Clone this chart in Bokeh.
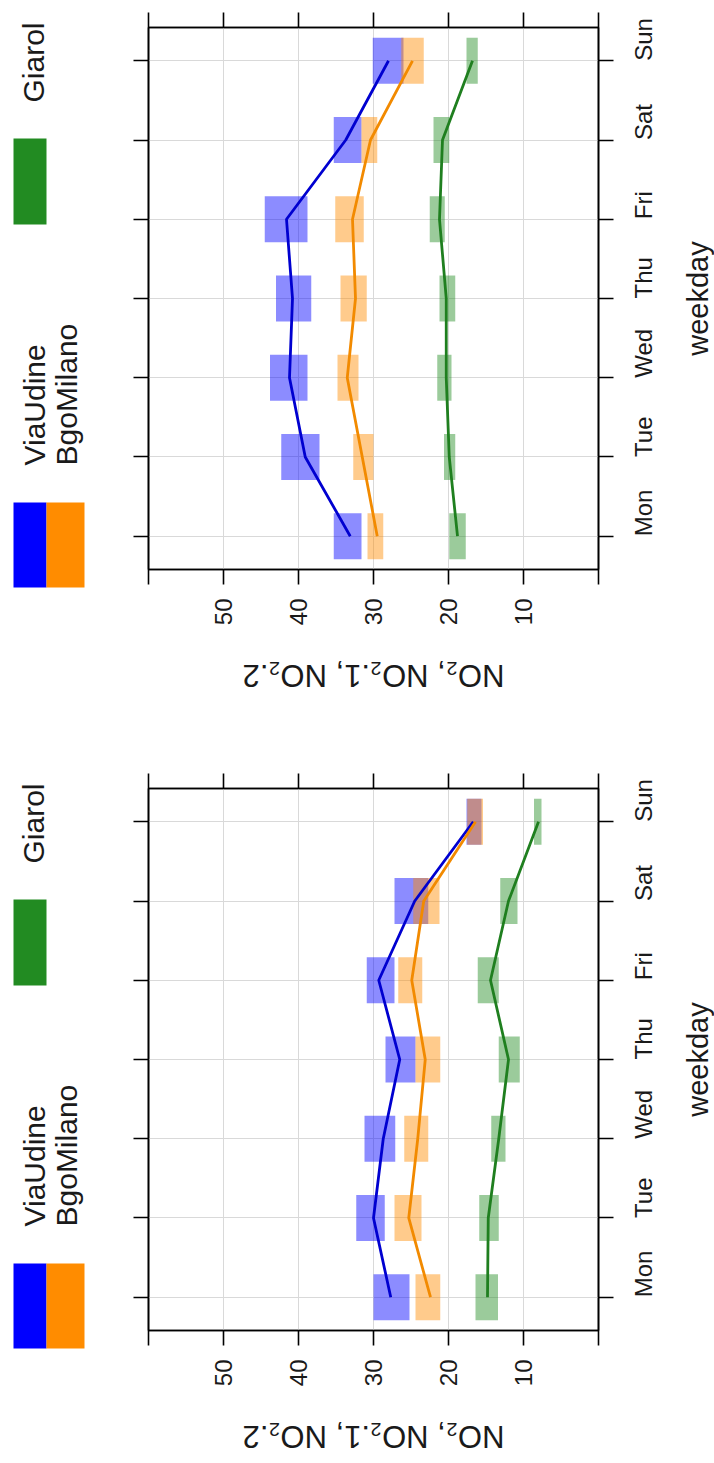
import math

from bokeh.core.properties import value
from bokeh.embed import file_html
from bokeh.layouts import column, row
from bokeh.models import FixedTicker, LinearAxis, Range1d
from bokeh.plotting import figure
from bokeh.resources import INLINE

# ---------------------------------------------------------------- data
days = ["Mon", "Tue", "Wed", "Thu", "Fri", "Sat", "Sun"]
value_ticks = [0, 10, 20, 30, 40, 50, 60]
sites = ["ViaUdine", "BgoMilano", "Giarol"]

# upper panel: weekday means and confidence bounds
upper_viaudine = [33.1, 39.1, 41.2, 40.8, 41.6, 33.7, 28.0]
upper_viaudine_lo = [31.6, 37.2, 38.8, 38.3, 38.8, 31.6, 26.0]
upper_viaudine_hi = [35.3, 42.3, 43.8, 43.0, 44.5, 35.3, 30.1]
upper_bgomilano = [29.5, 31.5, 33.5, 32.4, 32.8, 30.4, 24.8]
upper_bgomilano_lo = [28.7, 30.0, 32.0, 30.9, 31.3, 29.5, 23.3]
upper_bgomilano_hi = [30.8, 32.7, 34.8, 34.4, 35.1, 31.6, 26.3]
upper_giarol = [18.8, 19.9, 20.3, 20.3, 21.2, 20.8, 16.8]
upper_giarol_lo = [17.7, 19.1, 19.6, 19.1, 20.5, 19.9, 16.1]
upper_giarol_hi = [19.9, 20.6, 21.5, 21.2, 22.5, 22.0, 17.6]

# lower panel: weekday means and confidence bounds
lower_viaudine = [27.7, 30.0, 28.7, 26.5, 29.3, 24.5, 16.7]
lower_viaudine_lo = [25.2, 28.5, 27.1, 24.4, 27.2, 22.7, 15.6]
lower_viaudine_hi = [30.0, 32.3, 31.2, 28.4, 30.9, 27.2, 17.6]
lower_bgomilano = [22.4, 25.3, 24.1, 23.1, 24.9, 23.3, 16.4]
lower_bgomilano_lo = [21.1, 23.6, 22.7, 21.1, 23.5, 21.2, 15.4]
lower_bgomilano_hi = [24.4, 27.2, 25.9, 24.4, 26.7, 24.7, 17.5]
lower_giarol = [14.8, 14.7, 13.3, 12.0, 14.4, 12.0, 8.0]
lower_giarol_lo = [13.4, 13.3, 12.4, 10.5, 13.3, 10.8, 7.6]
lower_giarol_hi = [16.4, 15.9, 14.3, 13.3, 16.1, 13.1, 8.6]

# ---------------------------------------------------------------- styling
KEY_COLORS = {"ViaUdine": "#0000FF", "BgoMilano": "#FF8C00", "Giarol": "#228B22"}
LINE_COLORS = {"ViaUdine": "#0000D0", "BgoMilano": "#F28A00", "Giarol": "#1F7F1F"}
FONT = "Liberation Sans"
TEXT_COLOR = "#1a1a1a"
X_TITLE = "weekday"
Y_TITLE = "NO\u2082, NO\u2082.1, NO\u2082.2"

PAGE_W = 714
KEY_W = 100                      # key strip on the left
SIDE_W = 32                      # strip holding the weekday title on the right
MAIN_W = PAGE_W - KEY_W - SIDE_W
MAIN_H = 645
FRAME_L, FRAME_T, FRAME_W, FRAME_H = 48, 27, 450, 542
X_START, X_END = 60, 0           # value axis runs from right to left
Y_START, Y_END = 0.58, 7.42      # Mon at the bottom, Sun at the top
BAR_HALF = 0.29


def blank_strip(width, height):
    """A plain drawing area measured in pixels from its top-left corner."""
    s = figure(width=width, height=height,
               x_range=Range1d(0, width), y_range=Range1d(height, 0),
               min_border=0, output_backend="svg", toolbar_location=None,
               outline_line_color=None, background_fill_color="white",
               border_fill_color="white", frame_align=False)
    s.axis.visible = False
    s.grid.visible = False
    return s


def make_key():
    k = blank_strip(KEY_W, MAIN_H)
    boxes = {"ViaUdine": (13, 46, 502, 587), "BgoMilano": (46, 84, 502, 587),
             "Giarol": (13, 46, 138, 224)}
    for name in sites:
        x0, x1, y0, y1 = boxes[name]
        k.quad(left=x0, right=x1, top=y0, bottom=y1,
               fill_color=KEY_COLORS[name], line_color=None)
    anchors = {"ViaUdine": (33.5, 465), "BgoMilano": (66, 465), "Giarol": (33, 102)}
    k.text(x=[anchors[n][0] for n in sites], y=[anchors[n][1] for n in sites],
           text=sites, angle=math.pi / 2, text_align="left",
           text_baseline="middle", text_font=value(FONT),
           text_font_size="30px", text_color=TEXT_COLOR)
    return k


def make_side_title():
    s = blank_strip(SIDE_W, MAIN_H)
    s.text(x=[15.5], y=[FRAME_T + FRAME_H / 2], text=[X_TITLE], angle=math.pi / 2,
           text_align="center", text_baseline="middle", text_font=value(FONT),
           text_font_size="29px", text_color=TEXT_COLOR)
    return s


def make_bottom_title(height):
    s = blank_strip(PAGE_W, height)
    s.text(x=[KEY_W + FRAME_L + FRAME_W / 2], y=[30], text=[Y_TITLE], angle=math.pi,
           text_align="center", text_baseline="middle", text_font=value(FONT),
           text_font_size="31px", text_color=TEXT_COLOR)
    return s


def make_panel(series):
    p = figure(
        width=MAIN_W, height=MAIN_H,
        x_range=Range1d(X_START, X_END), y_range=Range1d(Y_START, Y_END),
        x_axis_location="below", y_axis_location="right",
        min_border_left=FRAME_L, min_border_right=MAIN_W - FRAME_L - FRAME_W,
        min_border_top=FRAME_T, min_border_bottom=MAIN_H - FRAME_T - FRAME_H,
        output_backend="svg", toolbar_location=None,
        background_fill_color="white", border_fill_color="white",
        outline_line_color="black", outline_line_width=1.6,
    )

    day_pos = list(range(1, len(days) + 1))
    day_labels = {i + 1: d for i, d in enumerate(days)}
    val_labels = {t: ("" if t in (X_START, X_END) else str(t)) for t in value_ticks}

    # grid
    p.xgrid.ticker = FixedTicker(ticks=value_ticks[1:-1])
    p.ygrid.ticker = FixedTicker(ticks=day_pos)
    for g in (p.xgrid, p.ygrid):
        g.grid_line_color = "#d9d9d9"
        g.grid_line_width = 1

    # labelled axes
    xa = p.xaxis[0]
    xa.ticker = FixedTicker(ticks=value_ticks)
    xa.major_label_overrides = val_labels
    xa.major_label_standoff = 14

    ya = p.yaxis[0]
    ya.ticker = FixedTicker(ticks=day_pos)
    ya.major_label_overrides = day_labels
    ya.major_label_standoff = 30

    for ax in (xa, ya):
        ax.major_label_orientation = math.pi / 2
        ax.major_label_text_font = FONT
        ax.major_label_text_font_size = "24px"
        ax.major_label_text_color = TEXT_COLOR

    # tick-only axes on the opposite sides
    top = LinearAxis(ticker=FixedTicker(ticks=value_ticks))
    left = LinearAxis(ticker=FixedTicker(ticks=day_pos))
    for ax in (top, left):
        ax.major_label_text_font_size = "1px"
        ax.major_label_text_color = None
        ax.major_label_standoff = 0
    p.add_layout(top, "above")
    p.add_layout(left, "left")

    for ax in (xa, ya, top, left):
        ax.axis_line_color = "black"
        ax.axis_line_width = 1.6
        ax.major_tick_line_color = "black"
        ax.major_tick_line_width = 1.6
        ax.major_tick_out = 15
        ax.major_tick_in = 0
        ax.minor_tick_line_color = None

    # confidence rectangles, then the mean lines
    for name in sites:
        mean, lo, hi = series[name]
        p.quad(left=lo, right=hi,
               bottom=[d - BAR_HALF for d in day_pos], top=[d + BAR_HALF for d in day_pos],
               fill_color=KEY_COLORS[name], fill_alpha=0.45, line_color=None)
    for name in sites:
        mean, lo, hi = series[name]
        p.line(mean, day_pos, line_color=LINE_COLORS[name], line_width=2.8)
    return p


def make_block(series, total_height):
    return column(row(make_key(), make_panel(series), make_side_title(), spacing=0),
                  make_bottom_title(total_height - MAIN_H), spacing=0)


upper = make_block({
    "ViaUdine": (upper_viaudine, upper_viaudine_lo, upper_viaudine_hi),
    "BgoMilano": (upper_bgomilano, upper_bgomilano_lo, upper_bgomilano_hi),
    "Giarol": (upper_giarol, upper_giarol_lo, upper_giarol_hi),
}, 761)
lower = make_block({
    "ViaUdine": (lower_viaudine, lower_viaudine_lo, lower_viaudine_hi),
    "BgoMilano": (lower_bgomilano, lower_bgomilano_lo, lower_bgomilano_hi),
    "Giarol": (lower_giarol, lower_giarol_lo, lower_giarol_hi),
}, 702)

page = column(upper, lower, spacing=0)
open("out.html", "w").write(file_html(page, INLINE))
